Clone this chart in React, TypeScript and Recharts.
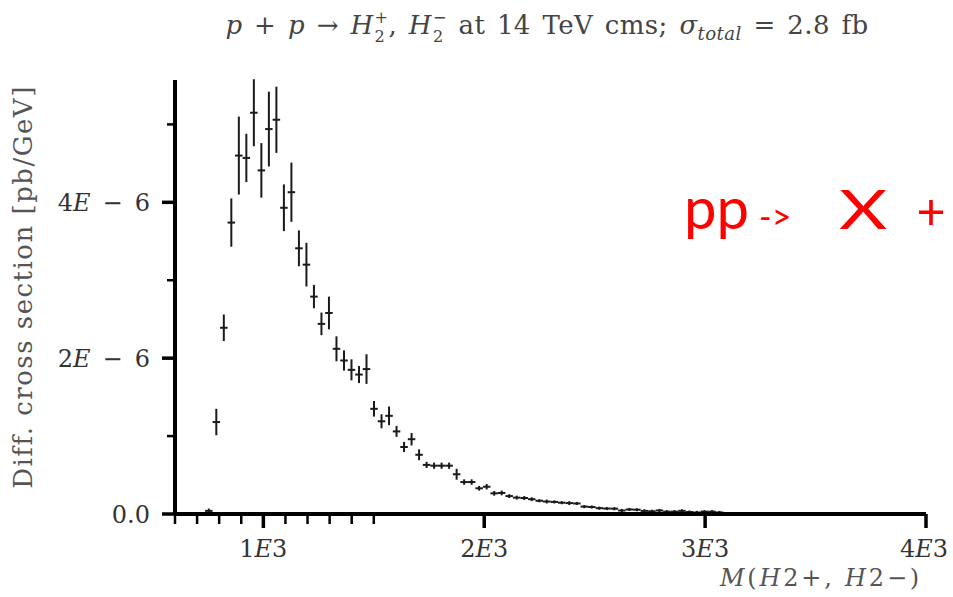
import { ScatterChart, Scatter, XAxis, YAxis, ErrorBar } from "recharts";

// bin centres in GeV (34 GeV bins)
const binCenters = [
  753, 787, 821, 855, 889, 923, 957, 991, 1025, 1059,
  1093, 1127, 1161, 1195, 1229, 1263, 1297, 1331, 1365, 1399,
  1433, 1467, 1501, 1535, 1569, 1603, 1637, 1671, 1705, 1739,
  1773, 1807, 1841, 1875, 1909, 1943, 1977, 2011, 2045, 2079,
  2113, 2147, 2181, 2215, 2249, 2283, 2317, 2351, 2385, 2419,
  2453, 2487, 2521, 2555, 2589, 2623, 2657, 2691, 2725, 2759,
  2793, 2827, 2861, 2895, 2929, 2963, 2997, 3031, 3065,
];

// diff. cross section, units of 1E-6 pb/GeV
const crossSection = [
  0.04, 1.18, 2.39, 3.74, 4.6, 4.57, 5.15, 4.41, 4.94, 5.06,
  3.93, 4.13, 3.41, 3.2, 2.79, 2.44, 2.58, 2.12, 1.97, 1.85,
  1.79, 1.86, 1.35, 1.19, 1.26, 1.06, 0.86, 0.96, 0.76, 0.63,
  0.62, 0.62, 0.62, 0.51, 0.41, 0.41, 0.33, 0.35, 0.265, 0.27,
  0.23, 0.21, 0.205, 0.19, 0.17, 0.16, 0.155, 0.145, 0.14, 0.135,
  0.095, 0.09, 0.075, 0.07, 0.068, 0.045, 0.058, 0.055, 0.04, 0.035,
  0.045, 0.03, 0.03, 0.04, 0.025, 0.02, 0.03, 0.03, 0.02,
];

const statError = [
  0.03, 0.17, 0.17, 0.31, 0.5, 0.31, 0.43, 0.35, 0.48, 0.425,
  0.3, 0.38, 0.23, 0.28, 0.15, 0.145, 0.21, 0.16, 0.13, 0.135,
  0.11, 0.19, 0.1, 0.09, 0.12, 0.07, 0.065, 0.08, 0.07, 0.04,
  0.04, 0.04, 0.04, 0.07, 0.035, 0.035, 0.03, 0.035, 0.03, 0.03,
  0.025, 0.025, 0.025, 0.025, 0.02, 0.025, 0.02, 0.02, 0.025, 0.02,
  0.02, 0.02, 0.02, 0.02, 0.02, 0.02, 0.02, 0.02, 0.02, 0.02,
  0.02, 0.02, 0.02, 0.02, 0.02, 0.02, 0.02, 0.02, 0.02,
];

const binHalfWidth = 17;

const xTicks = [600, 700, 800, 900, 1000, 1100, 1200, 1300, 1400, 1500, 2000, 3000, 4000];
const xMajorTicks = [1000, 2000, 3000, 4000];
const yTicks = [0, 1, 2, 3, 4, 5];
const yMajorTicks = [0, 2, 4];

const points = binCenters.map((m, i) => ({
  mass: m,
  value: crossSection[i],
  err: statError[i],
  halfBin: binHalfWidth,
}));

const serif = "'DejaVu Serif', 'Liberation Serif', serif";
const textColor = "#333";

const XTick = ({ x, y, payload }: any) => {
  const v = payload.value;
  const major = xMajorTicks.includes(v);
  return (
    <g>
      <line x1={x} x2={x} y1={y} y2={y + (major ? 14 : 10)} stroke="#000" strokeWidth={major ? 3.5 : 2.5} />
      {major && (
        <text x={v === 4000 ? x - 2 : x} y={y + 43} textAnchor="middle" fontFamily={serif} fontSize={24} fill={textColor}>
          {v / 1000}
          <tspan fontStyle="italic">E</tspan>3
        </text>
      )}
    </g>
  );
};

const YTick = ({ x, y, payload }: any) => {
  const v = payload.value;
  const major = yMajorTicks.includes(v);
  return (
    <g>
      <line x1={x} x2={x - (major ? 13 : 8)} y1={y} y2={y} stroke="#000" strokeWidth={major ? 3.5 : 2.5} />
      {major && (
        <text x={x - 25} y={y + 9} textAnchor="end" fontFamily={serif} fontSize={24} fill={textColor}>
          {v === 0 ? (
            "0.0"
          ) : (
            <>
              {v}
              <tspan fontStyle="italic">E</tspan>
              {"\u2002\u2212\u2002"}6
            </>
          )}
        </text>
      )}
    </g>
  );
};

const XLabel = ({ viewBox }: any) => (
  <text
    x={viewBox.x + viewBox.width - 4}
    y={viewBox.y + 72}
    textAnchor="end"
    fontFamily={serif}
    fontSize={24}
    letterSpacing={2.8}
    fill="#555"
  >
    <tspan fontStyle="italic">M</tspan>(<tspan fontStyle="italic">H</tspan>2+, <tspan fontStyle="italic">H</tspan>2
    {"\u2212"})
  </text>
);

const YLabel = ({ viewBox }: any) => {
  const cx = viewBox.x + 18;
  const cy = viewBox.y + viewBox.height / 2 - 10;
  return (
    <text
      x={cx}
      y={cy}
      transform={`rotate(-90, ${cx}, ${cy})`}
      textAnchor="middle"
      dominantBaseline="central"
      fontFamily={serif}
      fontSize={26}
      letterSpacing={1.5}
      fill="#555"
    >
      Diff. cross section [pb/GeV]
    </text>
  );
};

const SubSup = ({ sub, sup }: { sub: string; sup: string }) => (
  <span
    style={{
      display: "inline-flex",
      flexDirection: "column",
      fontSize: "0.62em",
      lineHeight: 1.18,
      verticalAlign: "0.7em",
      marginLeft: 1,
    }}
  >
    <span>{sup}</span>
    <span>{sub}</span>
  </span>
);

export default function App() {
  return (
    <div style={{ position: "absolute", left: 0, top: 0, width: 953, height: 597, background: "#fff" }}>
      <div
        style={{
          position: "absolute",
          left: 547,
          top: 8,
          transform: "translateX(-50%)",
          whiteSpace: "nowrap",
          fontFamily: serif,
          fontSize: 26,
          letterSpacing: 0.4,
          wordSpacing: 3,
          color: "#444",
          lineHeight: 1.2,
        }}
      >
        <i>p</i> + <i>p</i> → <i>H</i>
        <SubSup sub="2" sup="+" />, <i>H</i>
        <SubSup sub="2" sup="−" /> at 14 TeV cms; <i>σ</i>
        <sub style={{ fontSize: "0.7em" }}>
          <i>total</i>
        </sub>{" "}
        = 2.8 fb
      </div>

      <ScatterChart width={953} height={597} margin={{ top: 80, right: 27, bottom: 3, left: 5 }}>
        <XAxis
          type="number"
          dataKey="mass"
          domain={[600, 4000]}
          ticks={xTicks}
          interval={0}
          allowDataOverflow
          height={80}
          tickSize={0}
          tickMargin={0}
          axisLine={{ stroke: "#000", strokeWidth: 4 }}
          tickLine={false}
          tick={<XTick />}
          label={<XLabel />}
        />
        <YAxis
          type="number"
          dataKey="value"
          domain={[0, 5.57]}
          ticks={yTicks}
          interval={0}
          allowDataOverflow
          width={170}
          tickSize={0}
          tickMargin={0}
          axisLine={{ stroke: "#000", strokeWidth: 4 }}
          tickLine={false}
          tick={<YTick />}
          label={<YLabel />}
        />
        <Scatter data={points} isAnimationActive={false} shape={() => <g />}>
          <ErrorBar dataKey="err" direction="y" width={0} stroke="#1a1a1a" strokeWidth={2} />
          <ErrorBar dataKey="halfBin" direction="x" width={0} stroke="#1a1a1a" strokeWidth={2} />
        </Scatter>
      </ScatterChart>

      <div
        style={{
          position: "absolute",
          left: 684,
          top: 178,
          whiteSpace: "nowrap",
          fontFamily: "Lato, 'Open Sans', sans-serif",
          color: "#ff0000",
          lineHeight: 1,
        }}
      >
        <span style={{ fontSize: 58 }}>pp</span>
        <span style={{ fontSize: 34, margin: "0 0 0 10px" }}>-&gt;</span>
        <span
          style={{
            fontSize: 54,
            display: "inline-block",
            transform: "scaleX(1.38)",
            transformOrigin: "left",
            marginLeft: 48,
          }}
        >
          X
        </span>
        <span style={{ fontSize: 50, marginLeft: 42 }}>+</span>
      </div>
    </div>
  );
}
